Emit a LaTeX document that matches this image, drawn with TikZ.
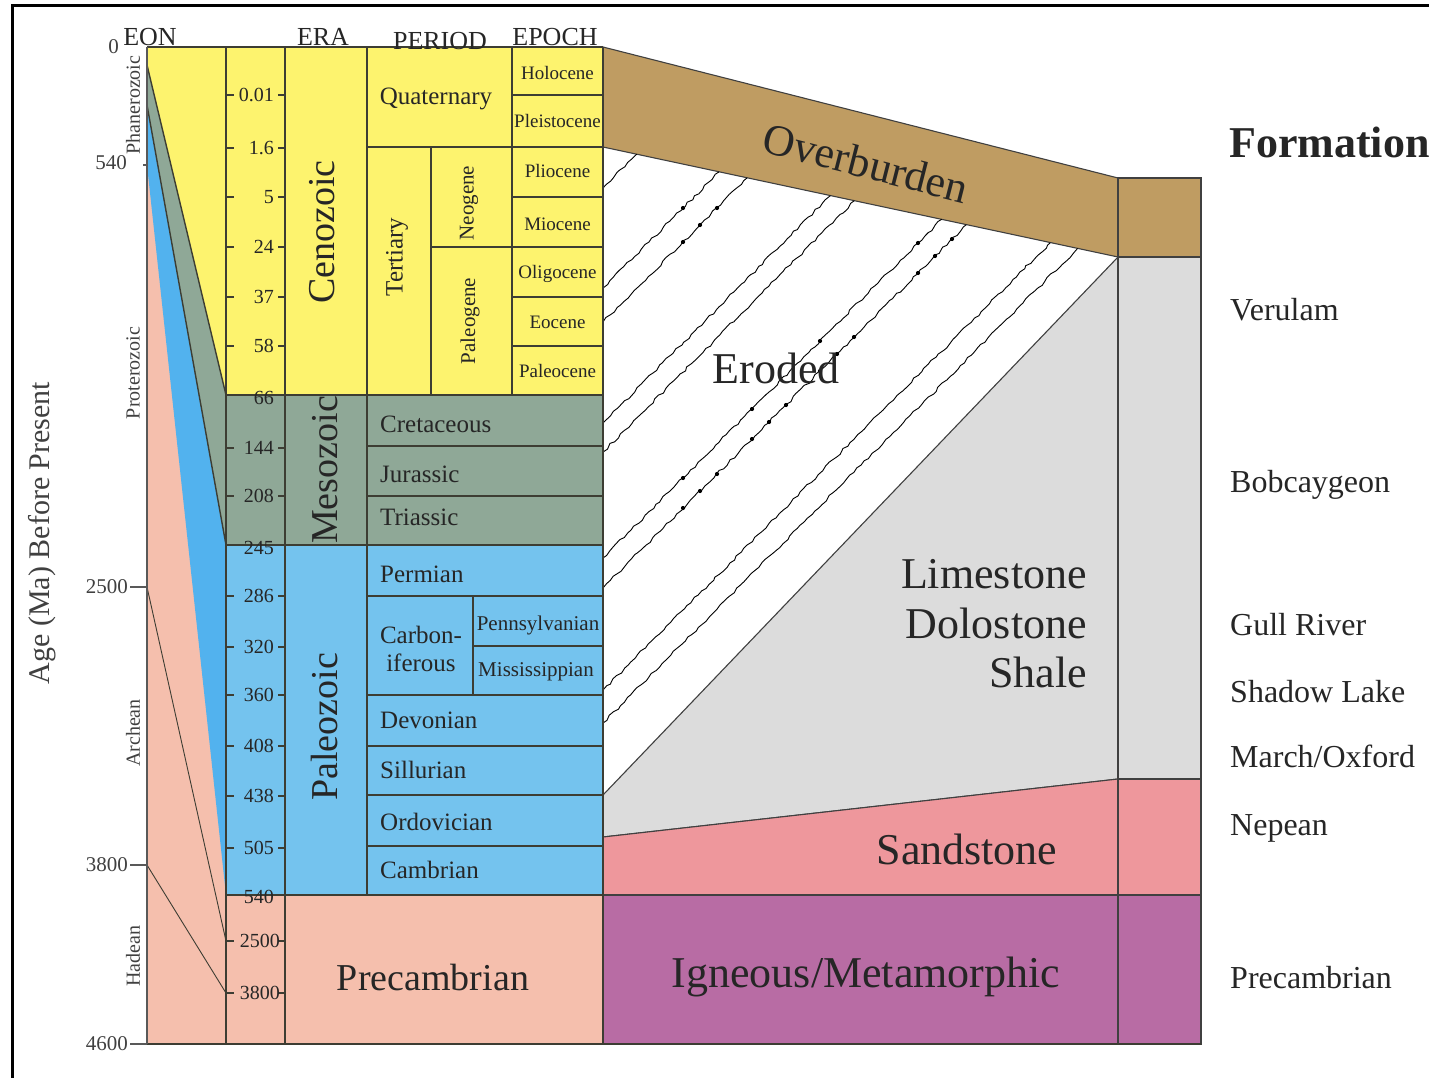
\documentclass[tikz,border=0pt]{standalone}
\usepackage{fontspec}
\setmainfont{Liberation Serif}
\usepackage{tikz}
\usetikzlibrary{decorations.pathmorphing}

\definecolor{cenoyellow}{HTML}{FDF36E}
\definecolor{mesogreen}{HTML}{8FA897}
\definecolor{paleoblue}{HTML}{74C3EE}
\definecolor{eonblue}{HTML}{52B2EE}
\definecolor{precpink}{HTML}{F5BFAD}
\definecolor{overbrown}{HTML}{BF9C62}
\definecolor{limegrey}{HTML}{DCDCDC}
\definecolor{sandpink}{HTML}{EE979C}
\definecolor{ignpurple}{HTML}{B86CA4}
\definecolor{gridline}{HTML}{3D3D33}
\definecolor{labeltext}{HTML}{262626}

\newcommand{\fsz}[1]{\fontsize{#1}{#1}\selectfont}

\tikzset{chartline/.style={draw=gridline,line width=1.4pt},
  rockline/.style={draw=black!75,line width=1.1pt},
  wavyline/.style={line width=0.9pt,decorate,decoration={random steps,segment length=5pt,amplitude=1.2pt}},
  hdrlbl/.style={text=labeltext,font=\fsz{26},inner sep=0pt,anchor=base},
  eralbl/.style={text=labeltext,font=\fsz{38},rotate=90,inner sep=0pt},
  perlbl/.style={text=labeltext,font=\fsz{25},inner sep=0pt},
  eplbl/.style={text=labeltext,font=\fsz{19},inner sep=0pt,anchor=base},
  ticklbl/.style={text=labeltext,font=\fsz{20},inner sep=0pt,anchor=east},
  axlbl/.style={text=black!75,font=\fsz{21},inner sep=0pt,anchor=east},
  eonlbl/.style={text=black!75,font=\fsz{20},rotate=90,inner sep=0pt},
  rocklbl/.style={text=labeltext,font=\fsz{44},inner sep=0pt},
  fmlbl/.style={text=labeltext,font=\fsz{32},inner sep=0pt,anchor=base west}}

\begin{document}
\begin{tikzpicture}[x=1pt,y=-1pt]
    \useasboundingbox (0,0) rectangle (1429,1078);
    \draw[line width=3pt] (12,1078) -- (12,6) -- (1429,6);

    % rock column on the right
    \filldraw[fill=overbrown,rockline] (603,47) -- (1118,178) -- (1118,257) -- (603,147) -- cycle;
    \filldraw[fill=overbrown,rockline] (1118,178) rectangle (1201,257);
    \filldraw[fill=limegrey,rockline] (603,795) -- (1118,257) -- (1118,779) -- (603,837) -- cycle;
    \filldraw[fill=limegrey,rockline] (1118,257) rectangle (1201,779);
    \filldraw[fill=sandpink,rockline] (603,837) -- (1118,779) -- (1118,895) -- (603,895) -- cycle;
    \filldraw[fill=sandpink,rockline] (1118,779) rectangle (1201,895);
    \filldraw[fill=ignpurple,rockline] (603,895) rectangle (1118,1044);
    \filldraw[fill=ignpurple,rockline] (1118,895) rectangle (1201,1044);

    \pgfmathsetseed{7}
    \foreach \ya/\xb/\yb in {188/636.8/154.2,288/719.2/171.8,322/747.2/177.8,423/830.4/195.6,452/854.3/200.7,558/941.7/219.3,588/966.4/224.6,690/1050.4/242.6,723/1077.6/248.4} {
      \draw[wavyline] (603,\ya) -- (\xb,\yb);
    }
    \foreach \ya/\yb/\dx in {288/322/683,558/588/683,558/588/752,558/588/820,558/588/918} {
      \fill (\dx,{\ya-(\dx-603)}) circle (2.1);
      \foreach \k in {0,17,34}
        \fill ({\dx+\k},{\yb-(\dx+\k-603)}) circle (2.1);
    }

    % eon column
    \fill[precpink] (147,47) rectangle (226,1044);
    \fill[cenoyellow] (147,47) -- (226,47) -- (226,395) -- (147,65) -- cycle;
    \fill[mesogreen] (147,65) -- (226,395) -- (226,545) -- (147,105) -- cycle;
    \fill[eonblue] (147,105) -- (226,545) -- (226,895) -- (147,165) -- cycle;
    \draw[chartline] (147,65) -- (226,395) (147,105) -- (226,545);
    \draw[gridline,line width=0.9pt] (147,587) -- (226,941) (147,865) -- (226,993);

    \fill[cenoyellow] (226,47) rectangle (603,395);
    \fill[mesogreen] (226,395) rectangle (603,545);
    \fill[paleoblue] (226,545) rectangle (603,895);
    \fill[precpink] (226,895) rectangle (603,1044);

    \foreach \x/\ya/\yb in {226/47/1044,285/47/1044,367/47/895,512/47/395,431/147/395,473/596/695,603/47/1044}
      \draw[chartline] (\x,\ya) -- (\x,\yb);
    \foreach \y/\xa in {47/147,395/226,545/226,895/226,147/367,446/367,496/367,596/367,695/367,746/367,795/367,846/367,95/512,197/512,247/431,297/512,346/512,646/473}
      \draw[chartline] (\xa,\y) -- (603,\y);
    \draw[chartline] (147,1044) -- (1201,1044);

    % age axis
    \draw[black!65,line width=1.3pt] (147,47) -- (147,1044) (143,165) -- (147,165);
    \foreach \ak/\ay in {2500/587,3800/865,4600/1044} {
      \draw[black!65,line width=1.3pt] (130,\ay) -- (147,\ay);
      \node[axlbl] (ax\ak) at (128,\ay) {\ak};
    }
    \node[axlbl] (ax0) at (119,47) {0};
    \node[axlbl] (ax540) at (127,163) {540};
    \node[rotate=90,text=black!75,font=\fsz{30},inner sep=0pt] (agelbl) at (42,533) {Age (Ma) Before Present};
    \foreach \eo/\ey in {Phanerozoic/105,Proterozoic/373,Archean/733,Hadean/956}
      \node[eonlbl] (\eo) at (133,\ey) {\eo};

    % ticks of the time scale
    \foreach \tk/\ty/\tx [count=\i] in {0.01/95/274,1.6/148/274,5/197/274,24/247/274,37/297/274,58/346/274,144/448/274,208/496/274,286/596/274,320/647/274,360/695/274,408/746/274,438/796/274,505/848/274,2500/941/280,3800/993/280} {
      \draw[chartline] (226,\ty) -- ++(8,0) (285,\ty) -- ++(-7,0);
      \node[ticklbl] (tick\i) at (\tx,\ty) {\tk};
    }
    \foreach \tk/\ty in {66/398,245/548,540/897}
      \node[ticklbl] (edge\tk) at (274,\ty) {\tk};

    \node[hdrlbl] (eonhdr) at (150,46) {EON};
    \node[hdrlbl] (erahdr) at (323,46) {ERA};
    \node[hdrlbl] (periodhdr) at (440,50) {PERIOD};
    \node[hdrlbl] (epochhdr) at (555,46) {EPOCH};

    \node[eralbl] (cenozoic) at (322,232) {Cenozoic};
    \node[eralbl] (mesozoic) at (325,470) {Mesozoic};
    \node[eralbl] (paleozoic) at (324,727) {Paleozoic};
    \node[text=labeltext,font=\fsz{38},inner sep=0pt,anchor=base] (precera) at (433,990) {Precambrian};

    \node[perlbl,anchor=base] (quaternary) at (436,105) {Quaternary};
    \node[perlbl,rotate=90] (tertiary) at (397,257) {Tertiary};
    \node[perlbl,rotate=90,font=\fsz{21}] (neogene) at (469,203) {Neogene};
    \node[perlbl,rotate=90,font=\fsz{21}] (paleogene) at (470,321) {Paleogene};
    \foreach \pn/\py in {Cretaceous/432,Jurassic/482,Triassic/525,Permian/582,Devonian/728,Sillurian/778,Ordovician/830,Cambrian/878}
      \node[perlbl,anchor=base west] (\pn) at (380,\py) {\pn};
    \node[perlbl,align=center,font=\fontsize{25}{28}\selectfont] (carbon) at (421,649) {Carbon-\\iferous};
    \node[perlbl,font=\fsz{21},anchor=base] (pennsyl) at (538,630) {Pennsylvanian};
    \node[perlbl,font=\fsz{21},anchor=base] (mississ) at (536,676) {Mississippian};
    \foreach \en/\ey in {Holocene/80,Pleistocene/128,Pliocene/178,Miocene/230,Oligocene/278,Eocene/328,Paleocene/377}
      \node[eplbl] (\en) at (557.5,\ey) {\en};

    % rock labels
    \node[rocklbl,rotate=-14.3] (overburden) at (866,163) {Overburden};
    \node[rocklbl,anchor=base] (eroded) at (776,383) {Eroded};
    \node[rocklbl,anchor=base east] (limestone) at (1087,588) {Limestone};
    \node[rocklbl,anchor=base east] (dolostone) at (1087,638) {Dolostone};
    \node[rocklbl,anchor=base east] (shale) at (1087,687) {Shale};
    \node[rocklbl,anchor=base] (sandstone) at (967,864) {Sandstone};
    \node[rocklbl,anchor=base] (igneous) at (866,987) {Igneous/Metamorphic};

    \node[text=labeltext,font=\bfseries\fsz{44},inner sep=0pt,anchor=base west] (formation) at (1229,158) {Formation};
    \foreach \fm/\fy [count=\i] in {Verulam/320,Bobcaygeon/492,Gull River/635,Shadow Lake/702,March\slash Oxford/767,Nepean/835,Precambrian/988}
      \node[fmlbl] (fm\i) at (1230,\fy) {\fm};
\end{tikzpicture}
\end{document}
